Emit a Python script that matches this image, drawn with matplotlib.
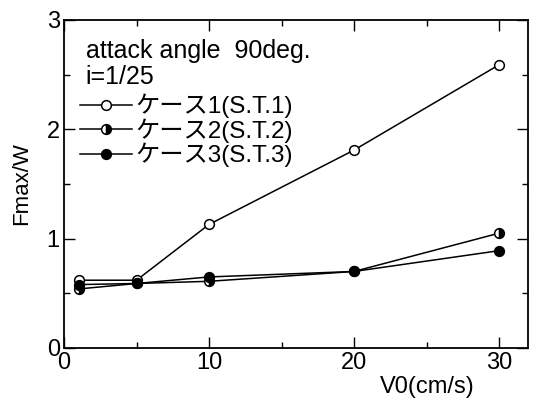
"""
Fmax/W versus towing speed V0 for three cases (attack angle 90 deg, i=1/25)
"""

import matplotlib.pyplot as plt
from matplotlib.ticker import MultipleLocator

plt.rcParams['font.family'] = ['Liberation Sans', 'Noto Sans CJK JP']

# data
v0 = [1, 5, 10, 20, 30]
case1 = [0.62, 0.62, 1.13, 1.81, 2.59]
case2 = [0.54, 0.59, 0.61, 0.70, 1.05]
case3 = [0.58, 0.59, 0.65, 0.70, 0.89]
labels = ["ケース1(S.T.1)", "ケース2(S.T.2)", "ケース3(S.T.3)"]
header = ["attack angle  90deg.", "i=1/25"]

fig = plt.figure(figsize=(5.38, 4.0), dpi=100)
ax = fig.add_axes([64 / 538, 52 / 400, 464 / 538, 328 / 400])

ms = 7
lw = 1.1
ax.plot(v0, case1, color='black', lw=lw, marker='o', ms=ms,
        mfc='white', mec='black', mew=1.1, label=labels[0])
ax.plot(v0, case2, color='black', lw=lw, marker='o', ms=ms,
        fillstyle='right', mfc='black', mfcalt='white', mec='black', mew=1.1,
        label=labels[1])
ax.plot(v0, case3, color='black', lw=lw, marker='o', ms=ms,
        mfc='black', mec='black', mew=1.1, label=labels[2])

ax.set_xlim(0, 32)
ax.set_ylim(0, 3)
ax.xaxis.set_major_locator(MultipleLocator(10))
ax.xaxis.set_minor_locator(MultipleLocator(5))
ax.yaxis.set_major_locator(MultipleLocator(1))
ax.yaxis.set_minor_locator(MultipleLocator(0.5))
ax.tick_params(which='both', direction='in', top=True, right=True, width=1.0)
ax.tick_params(which='major', length=8, labelsize=17, pad=3)
ax.tick_params(which='minor', length=4.5)
for s in ax.spines.values():
    s.set_linewidth(1.3)

ax.set_ylabel("Fmax/W", fontsize=16)
ax.yaxis.set_label_coords(-0.069, 0.5)
ax.set_xlabel("V0(cm/s)", fontsize=17, ha='center')
ax.xaxis.set_label_coords(0.782, -0.085)

# header lines above the legend
ax.text(0.047, 0.905, header[0], transform=ax.transAxes, fontsize=18, va='center')
ax.text(0.047, 0.827, header[1], transform=ax.transAxes, fontsize=18, va='center')

ax.legend(loc='upper left', bbox_to_anchor=(0.035, 0.775), frameon=False,
          fontsize=17.5, handlelength=2.15, handletextpad=0.1, borderpad=0,
          borderaxespad=0, labelspacing=0.0, numpoints=1)

fig.savefig("out.png", dpi=100)
